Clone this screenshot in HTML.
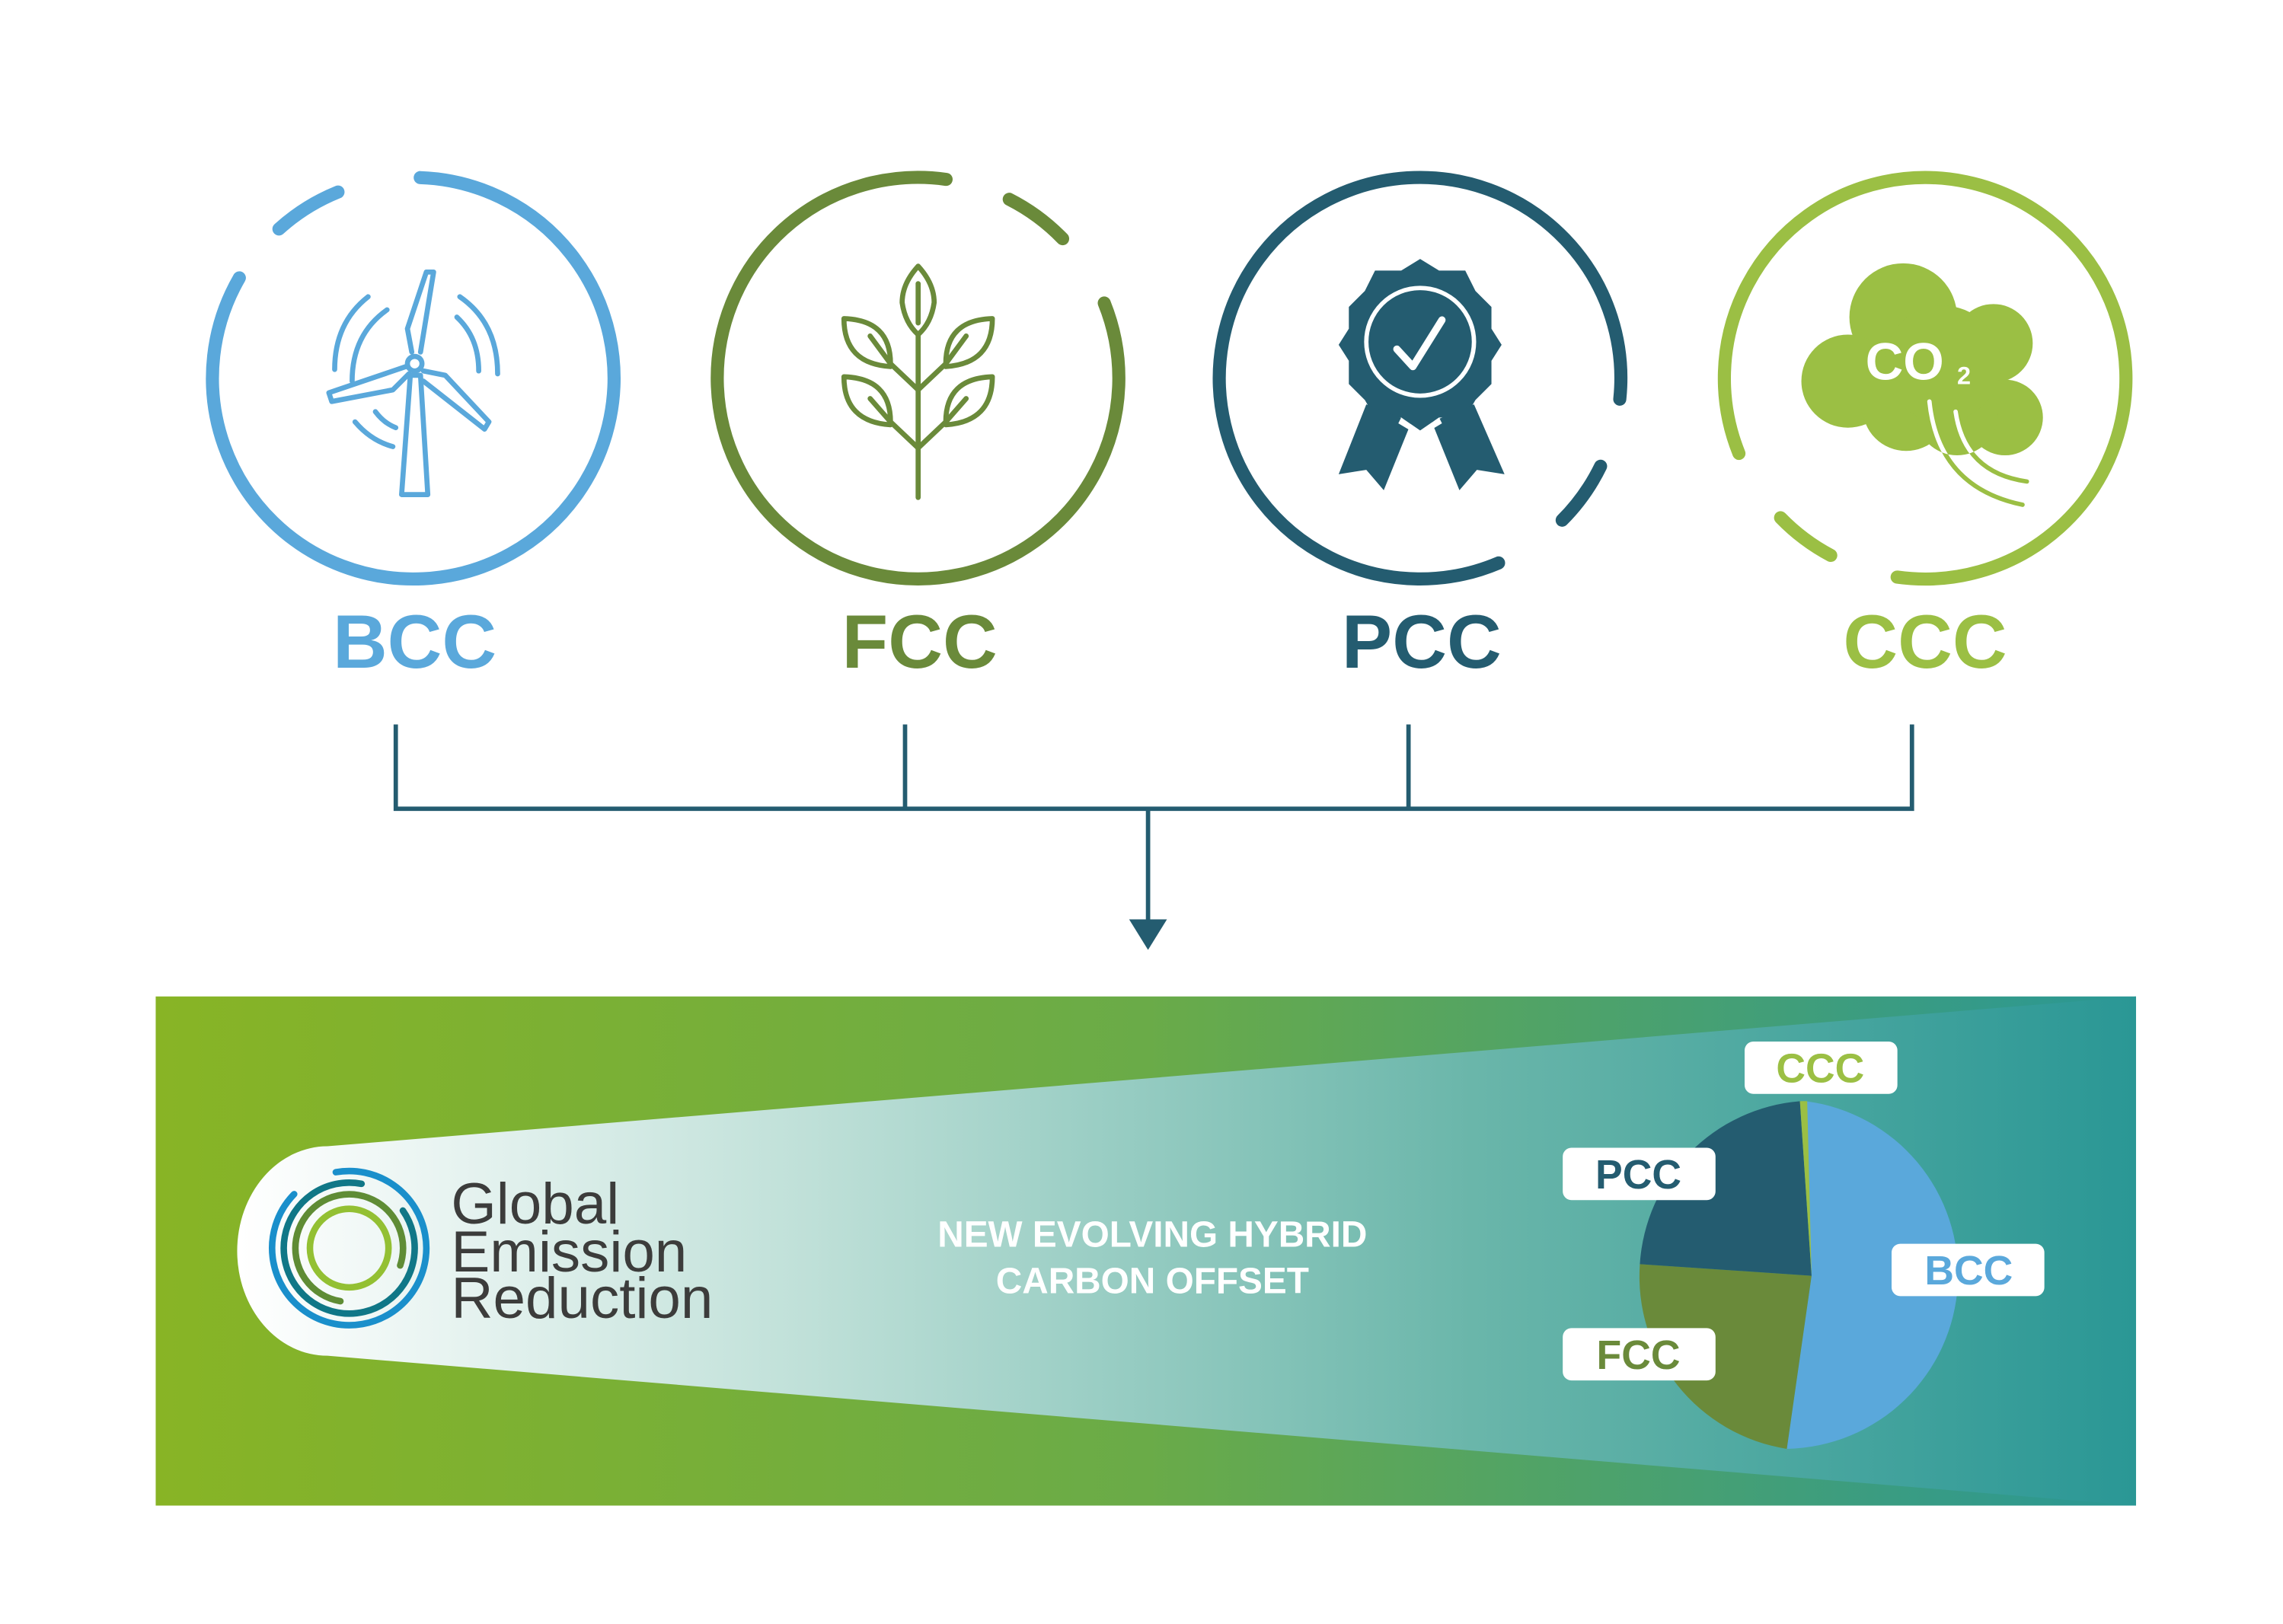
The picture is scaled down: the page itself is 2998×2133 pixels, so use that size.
<!DOCTYPE html>
<html><head><meta charset="utf-8"><style>
html,body{margin:0;padding:0;background:#fff;}
svg{display:block;}
text{font-family:"Liberation Sans",sans-serif;}
</style></head><body>
<svg width="2998" height="2133" viewBox="0 0 1569 1116.4" preserveAspectRatio="none" xmlns="http://www.w3.org/2000/svg">
<defs>
<linearGradient id="bg" x1="0" x2="1" y1="0" y2="0">
<stop offset="0" stop-color="#88b425"/><stop offset="0.5" stop-color="#6aab48"/><stop offset="1" stop-color="#2a9795"/>
</linearGradient>
<linearGradient id="beam" gradientUnits="userSpaceOnUse" x1="165" x2="1468" y1="0" y2="0">
<stop offset="0" stop-color="#ffffff"/><stop offset="0.3" stop-color="#bfe0d8"/><stop offset="0.65" stop-color="#6ab6aa"/><stop offset="1" stop-color="#2a9795"/>
</linearGradient>
<clipPath id="cloud">
<circle cx="1308" cy="218" r="37"/><circle cx="1370" cy="236" r="27"/><circle cx="1270" cy="262" r="32"/>
<circle cx="1310" cy="280" r="30"/><circle cx="1378" cy="287" r="26"/><circle cx="1345" cy="285" r="28"/><circle cx="1335" cy="250" r="40"/>
</clipPath>
</defs>

<g fill="none" stroke-width="9" stroke-linecap="round">
<path stroke="#5aa8db" d="M288.8 122.1 A138 138 0 1 1 164.5 191"/>
<path stroke="#5aa8db" d="M191.7 157.4 A138 138 0 0 1 232.3 132"/>
<path stroke="#6a8a3a" d="M758.9 208.3 A138 138 0 1 1 650.2 123.3"/>
<path stroke="#6a8a3a" d="M693.6 137 A138 138 0 0 1 730.3 164.1"/>
<path stroke="#245c70" d="M1029.9 387 A138 138 0 1 1 1113.2 274.4"/>
<path stroke="#245c70" d="M1100 320.5 A138 138 0 0 1 1073.6 357.6"/>
<path stroke="#9bbf44" d="M1195.1 311.7 A138 138 0 1 1 1303.8 396.7"/>
<path stroke="#9bbf44" d="M1223.7 355.9 A138 138 0 0 0 1258.2 381.8"/>
</g>

<g fill="none" stroke="#5aa8db" stroke-width="3.5" stroke-linejoin="round" stroke-linecap="round">
<path d="M282 258 L276 340 L294 340 L289 258 Z"/>
<path d="M283 242 L280 226 L293 187 L298 187 L289 242"/>
<path d="M279 252 L226 270 L228 276 L270 268 L281 257"/>
<path d="M291 255 L306 258 L336 290 L333 295 L291 262"/>
<circle cx="285" cy="250" r="5"/>
<path d="M230 254 Q230 222 253 204"/><path d="M242 262 Q242 230 266 213"/>
<path d="M342 257 Q342 222 316 204"/><path d="M329 255 Q329 232 314 218"/>
<path d="M244 290 Q255 303 270 307"/><path d="M258 283 Q264 291 272 294"/>
</g>

<g fill="none" stroke="#6a8a3a" stroke-width="3.5" stroke-linejoin="round" stroke-linecap="round">
<path d="M631 230 L631 342"/>
<path d="M631 183 Q620 195 620 208 Q622 222 631 230 Q640 222 642 208 Q642 195 631 183 Z"/>
<path d="M631 195 L631 222"/>
<path d="M631 268 L612 250 Q612 220 580 219 Q580 250 612 252"/>
<path d="M598 231 L612 250"/>
<path d="M631 268 L650 250 Q650 220 682 219 Q682 250 650 252"/>
<path d="M664 231 L650 250"/>
<path d="M631 308 L612 290 Q612 260 580 259 Q580 290 612 292"/>
<path d="M598 274 L612 290"/>
<path d="M631 308 L650 290 Q650 260 682 259 Q682 290 650 292"/>
<path d="M664 274 L650 290"/>
</g>

<g>
<polygon fill="#245c70" points="976,178 989,186 1007,186 1014,200 1025,211 1025,226 1032,237 1025,248 1025,264 1014,275 1007,287 989,287 976,296 963,287 945,287 938,275 927,264 927,248 920,237 927,226 927,211 938,200 945,186 963,186"/>
<circle cx="976" cy="235" r="37" fill="none" stroke="#fff" stroke-width="3"/>
<path d="M960 240 L971 252 L991 220" fill="none" stroke="#fff" stroke-width="5" stroke-linecap="round" stroke-linejoin="round"/>
<polygon fill="#245c70" points="939,278 920,326 939,323 951,337 970,290"/>
<polygon fill="#245c70" points="1013,278 1034,326 1015,323 1003,337 984,290"/>
<polygon fill="#fff" points="963,287 976,296 989,287 991,291 976,300 961,291"/>
</g>

<g fill="#9bbf44">
<circle cx="1308" cy="218" r="37"/><circle cx="1370" cy="236" r="27"/><circle cx="1270" cy="262" r="32"/>
<circle cx="1310" cy="280" r="30"/><circle cx="1378" cy="287" r="26"/><circle cx="1345" cy="285" r="28"/><circle cx="1335" cy="250" r="40"/>
</g>
<text x="1282" y="261" font-size="36" font-weight="bold" fill="#fff">CO</text>
<text x="1345" y="264" font-size="17" font-weight="bold" fill="#fff">2</text>
<g fill="none" stroke-width="3" stroke-linecap="round">
<path stroke="#9bbf44" d="M1326 276 Q1332 335 1390 347"/>
<path stroke="#9bbf44" d="M1344 283 Q1350 325 1393 331"/>
<g clip-path="url(#cloud)"><path stroke="#fff" d="M1326 276 Q1332 335 1390 347"/><path stroke="#fff" d="M1344 283 Q1350 325 1393 331"/></g>
</g>

<g font-size="52" font-weight="bold" text-anchor="middle">
<text x="285" y="459" fill="#5aa8db">BCC</text>
<text x="632" y="459" fill="#6a8a3a">FCC</text>
<text x="977" y="459" fill="#245c70">PCC</text>
<text x="1323" y="459" fill="#9bbf44">CCC</text>
</g>

<g fill="none" stroke="#245c70" stroke-width="3">
<path d="M272 498 V556 H1314 V498"/>
<path d="M622 498 V556"/><path d="M968 498 V556"/>
<path d="M789 556 V636"/>
</g>
<polygon fill="#245c70" points="776,632 802,632 789,653"/>

<rect x="107" y="685" width="1361" height="350" fill="url(#bg)"/>
<path d="M225 788 L1468 685 L1468 1035 L225 932 A62 72 0 0 1 225 788 Z" fill="url(#beam)"/>

<g fill="none" stroke-linecap="round" stroke-width="4.5">
<circle cx="240" cy="858" r="53" stroke="#1a8fcb" stroke-dasharray="300 33" transform="rotate(-100 240 858)"/>
<circle cx="240" cy="858" r="45" stroke="#107787" stroke-dasharray="248 35" transform="rotate(-35 240 858)"/>
<circle cx="240" cy="858" r="37" stroke="#5f8c35" stroke-dasharray="180 52" transform="rotate(100 240 858)"/>
<circle cx="240" cy="858" r="27" stroke="#93c033"/>
</g>
<g font-size="40" fill="#3c3c3b">
<text x="310" y="841">Global</text>
<text x="310" y="874">Emission</text>
<text x="310" y="906">Reduction</text>
</g>

<g font-size="25" font-weight="bold" fill="#fff" text-anchor="middle">
<text x="792" y="857">NEW EVOLVING HYBRID</text>
<text x="792" y="889">CARBON OFFSET</text>
</g>

<g>
<path d="M1245 877 L1241 757 A120 120 0 0 1 1228 996 Z" fill="#5aa8db"/>
<path d="M1245 877 L1228 996 A120 120 0 0 1 1127 869 Z" fill="#6a8a3a"/>
<path d="M1245 877 L1127 869 A120 120 0 0 1 1237 757 Z" fill="#245c70"/>
<path d="M1245 877 L1237 757 A120 120 0 0 1 1242 757 Z" fill="#9bbf44"/>
</g>
<g>
<rect x="1199" y="716" width="105" height="36" rx="6" fill="#fff"/>
<rect x="1074" y="789" width="105" height="36" rx="6" fill="#fff"/>
<rect x="1300" y="855" width="105" height="36" rx="6" fill="#fff"/>
<rect x="1074" y="913" width="105" height="36" rx="6" fill="#fff"/>
</g>
<g font-size="28" font-weight="bold" text-anchor="middle">
<text x="1251" y="744" fill="#9bbf44">CCC</text>
<text x="1126" y="817" fill="#245c70">PCC</text>
<text x="1353" y="883" fill="#5aa8db">BCC</text>
<text x="1126" y="941" fill="#6a8a3a">FCC</text>
</g>
</svg>
</body></html>
